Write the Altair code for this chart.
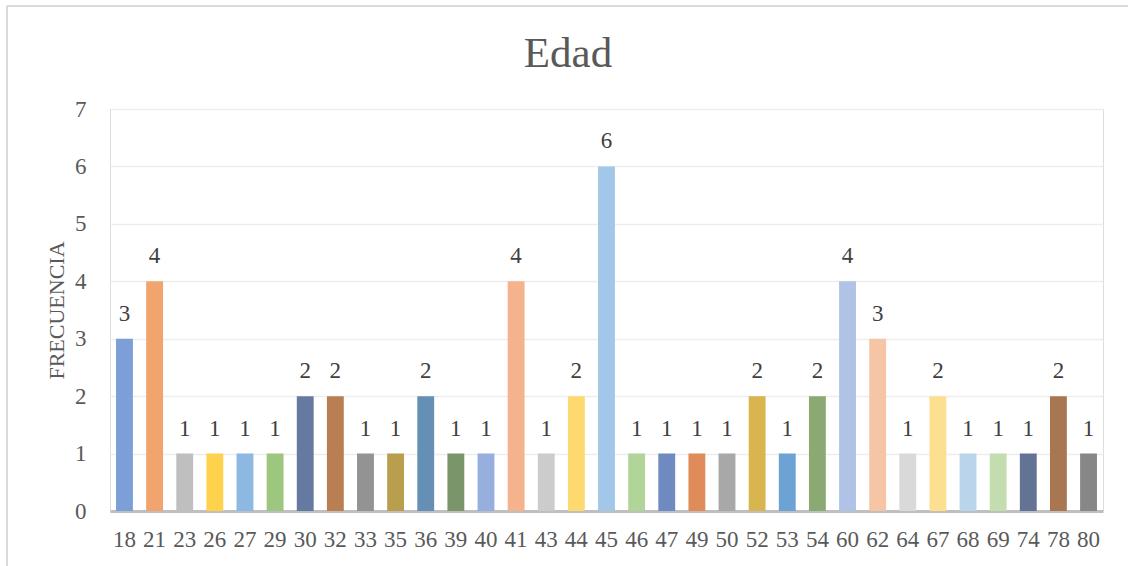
import altair as alt
import pandas as pd

# Age frequencies
edades = ["18", "21", "23", "26", "27", "29", "30", "32", "33", "35", "36", "39", "40",
          "41", "43", "44", "45", "46", "47", "49", "50", "52", "53", "54", "60", "62",
          "64", "67", "68", "69", "74", "78", "80"]
frecuencias = [3, 4, 1, 1, 1, 1, 2, 2, 1, 1, 2, 1, 1,
               4, 1, 2, 6, 1, 1, 1, 1, 2, 1, 2, 4, 3,
               1, 2, 1, 1, 1, 2, 1]
colores = ["#7C9FD7", "#F1A46D", "#BFBFBF", "#FFD24D", "#8DB8E2", "#9DC67E", "#667AA1",
           "#B97E52", "#939393", "#B89E4D", "#658FB4", "#7A956A", "#96AFDE", "#F4B38C",
           "#CCCCCC", "#FDD96F", "#A3C7E8", "#B1D498", "#6E8AC0", "#DF8C5A", "#A8A8A8",
           "#D8B54E", "#6DA3D4", "#8BAA73", "#B0C2E6", "#F5C5A6", "#D9D9D9", "#FDE08F",
           "#BAD4EC", "#C3DDB0", "#637393", "#A87752", "#878787"]
titulo = "Edad"

df = pd.DataFrame({"edad": edades, "frecuencia": frecuencias, "color": colores})

FONT = "Liberation Serif"
GRIS = "#595959"
W, H = 993, 402
LEFT, TOP = 110, 109

x_enc = alt.X("edad:N", sort=edades, title=None,
              scale=alt.Scale(paddingInner=0.44, paddingOuter=0.2),
              axis=alt.Axis(labelAngle=0, labelFont=FONT, labelFontSize=23,
                            labelColor=GRIS, labelPadding=17, ticks=False, grid=False,
                            domainColor="#BFBFBF", domainWidth=3))
y_enc = alt.Y("frecuencia:Q", title="FRECUENCIA",
              scale=alt.Scale(domain=[0, 7], nice=False),
              axis=alt.Axis(values=list(range(8)), format="d", labelFont=FONT,
                            labelFontSize=23, labelColor=GRIS, labelPadding=24,
                            ticks=False, domain=False,
                            gridColor="#EDEDED", gridWidth=1.5,
                            titleFont=FONT, titleFontSize=22, titleFontWeight="normal",
                            titleColor=GRIS, titlePadding=6))

barras = alt.Chart(df).mark_bar().encode(
    x=x_enc, y=y_enc, color=alt.Color("color:N", scale=None)
)

etiquetas = alt.Chart(df).mark_text(
    font=FONT, fontSize=23, color="#404040", baseline="alphabetic", dy=-18
).encode(x=alt.X("edad:N", sort=edades), y="frecuencia:Q", text="frecuencia:Q")

# Chart heading, centred on the whole canvas
encabezado = alt.Chart(pd.DataFrame({"t": [titulo]})).mark_text(
    font=FONT, fontSize=43, color=GRIS, baseline="alphabetic", align="center"
).encode(x=alt.value(568 - LEFT), y=alt.value(67 - TOP), text="t:N")

# Outer frame of the chart area (left and top edges)
marco_izq = alt.Chart(df).mark_rule(color="#D9D9D9", strokeWidth=2).encode(
    x=alt.value(7 - LEFT), y=alt.value(6 - TOP), y2=alt.value(H + 60)
)
marco_sup = alt.Chart(df).mark_rule(color="#D9D9D9", strokeWidth=2).encode(
    x=alt.value(7 - LEFT), x2=alt.value(W + 30), y=alt.value(6 - TOP)
)

chart = alt.layer(marco_izq, marco_sup, barras, etiquetas, encabezado).properties(
    width=W, height=H,
    autosize=alt.AutoSizeParams(type="none"),
    padding={"left": LEFT, "top": TOP, "right": 25, "bottom": 55},
).configure_view(stroke="transparent").configure(background="white")

chart.save("out.html", embed_options={"renderer": "svg", "actions": False})
